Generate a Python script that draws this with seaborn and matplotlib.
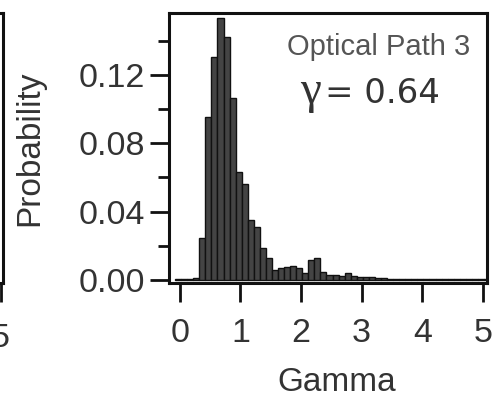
import numpy as np
import pandas as pd
import matplotlib
matplotlib.use("Agg")
import matplotlib.pyplot as plt
import seaborn as sns
from matplotlib.ticker import MultipleLocator

# ---- data ----
gamma_centers = [-0.03, 0.07, 0.17, 0.27, 0.37, 0.47, 0.57, 0.67, 0.77, 0.87,
                 0.97, 1.07, 1.17, 1.27, 1.37, 1.47, 1.57, 1.67, 1.77, 1.87,
                 1.97, 2.07, 2.17, 2.27, 2.37, 2.47, 2.57, 2.67, 2.77, 2.87,
                 2.97, 3.07, 3.17, 3.27, 3.37, 3.47, 3.57, 3.67, 3.77, 3.87,
                 3.97, 4.07, 4.17, 4.27, 4.37, 4.47, 4.57, 4.67, 4.77, 4.87,
                 4.97, 5.07]
probability = [0.0008, 0.0008, 0.0008, 0.0010, 0.0246, 0.0954, 0.1306, 0.1534, 0.1423, 0.1066,
               0.0632, 0.0562, 0.0351, 0.0310, 0.0187, 0.0129, 0.0059, 0.0070, 0.0076, 0.0082,
               0.0070, 0.0041, 0.0117, 0.0129, 0.0047, 0.0030, 0.0030, 0.0025, 0.0040, 0.0025,
               0.0020, 0.0015, 0.0020, 0.0010, 0.0010, 0.0008, 0.0008, 0.0008, 0.0008, 0.0008,
               0.0008, 0.0008, 0.0008, 0.0008, 0.0008, 0.0008, 0.0008, 0.0008, 0.0008, 0.0008,
               0.0008, 0.0008]
bin_width = 0.1
x_ticks = [0, 1, 2, 3, 4, 5]
y_ticks = [0.00, 0.04, 0.08, 0.12]
y_tick_labels = ["0.00", "0.04", "0.08", "0.12"]
title_text = "Optical Path 3"
gamma_symbol = "\u03b3"
gamma_value_text = "= 0.64"

df = pd.DataFrame({"gamma": gamma_centers, "prob": probability})
edges = [gamma_centers[0] - bin_width / 2] + [c + bin_width / 2 for c in gamma_centers]

sns.set_theme(style="white")
plt.rcParams["font.family"] = ["Liberation Sans", "DejaVu Sans"]

fig = plt.figure(figsize=(4.95, 3.99), dpi=100)
W, H = 495, 399
ax_left, ax_right, ax_top, ax_bottom = 169, 487, 13, 283
ax = fig.add_axes([ax_left / W, 1 - ax_bottom / H,
                   (ax_right - ax_left) / W, (ax_bottom - ax_top) / H])

sns.histplot(data=df, x="gamma", weights="prob", bins=edges, stat="count",
             element="bars", fill=True, color="#444444", edgecolor="#111111",
             linewidth=1.0, alpha=1, ax=ax)

ax.set_xlim(-0.18, 5.07)
ax.set_ylim(-0.0018, 0.1563)
ax.set_xticks(x_ticks)
ax.set_xticklabels([str(t) for t in x_ticks])
ax.set_yticks(y_ticks)
ax.set_yticklabels(y_tick_labels)
ax.yaxis.set_minor_locator(MultipleLocator(0.02))

for sp in ax.spines.values():
    sp.set_visible(True)
    sp.set_linewidth(2.2)
    sp.set_color("#111111")

ax.tick_params(axis="both", which="major", direction="out", length=14, width=2,
               color="#111111", labelsize=24.5, labelcolor="#333333",
               bottom=True, left=True)
ax.tick_params(axis="y", which="major", pad=3)
ax.tick_params(axis="x", which="major", pad=11)
ax.tick_params(axis="y", which="minor", direction="out", length=8, width=2,
               color="#111111", left=True)

ax.set_xlabel("Gamma", fontsize=24, color="#333333")
ax.set_ylabel("Probability", fontsize=24, color="#333333")
ax.xaxis.set_label_coords(0.527, -0.311)
ax.yaxis.set_label_coords(-0.39, 0.5)

ax.text(0.66, 0.874, title_text, transform=ax.transAxes, ha="center",
        va="center", fontsize=21, color="#555555")
# gamma symbol in a serif face, value in a wider sans
ax.text((321 - ax_left) / (ax_right - ax_left), 0.665, gamma_symbol,
        transform=ax.transAxes, ha="right", va="baseline", fontsize=34,
        color="#333333", family=["Liberation Serif", "DejaVu Serif"])
ax.text((325 - ax_left) / (ax_right - ax_left), 0.665, gamma_value_text,
        transform=ax.transAxes, ha="left", va="baseline", fontsize=24.5,
        color="#333333", family=["DejaVu Sans"])

# partial neighbouring panel at the left edge
ax2 = fig.add_axes([-0.5, 1 - ax_bottom / H, 0.5 + 3 / W, (ax_bottom - ax_top) / H])
ax2.set_xlim(0, 5.05)
ax2.set_ylim(0, 1)
ax2.set_xticks([5])
ax2.set_xticklabels(["5"])
ax2.set_yticks([])
for sp in ax2.spines.values():
    sp.set_linewidth(2.2)
    sp.set_color("#111111")
ax2.tick_params(axis="x", length=14, width=2, labelsize=24.5, labelcolor="#333333",
                pad=15, bottom=True, color="#111111")

fig.savefig("out.png", dpi=100)
